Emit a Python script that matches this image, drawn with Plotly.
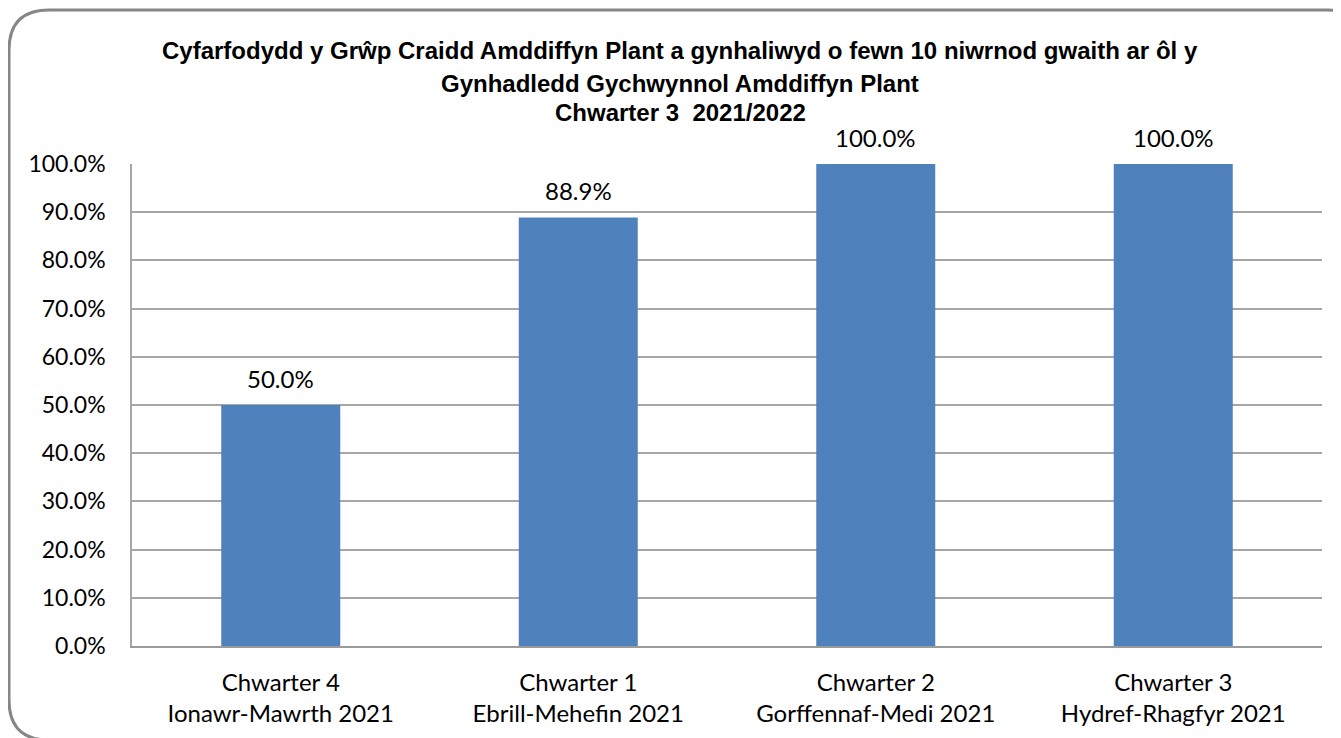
import plotly.graph_objects as go

categories = ["Chwarter 4<br>Ionawr-Mawrth 2021", "Chwarter 1<br>Ebrill-Mehefin 2021",
              "Chwarter 2<br>Gorffennaf-Medi 2021", "Chwarter 3<br>Hydref-Rhagfyr 2021"]
values = [0.50, 0.889, 1.00, 1.00]
tick_vals = [0, 0.1, 0.2, 0.3, 0.4, 0.5, 0.6, 0.7, 0.8, 0.9, 1.0]
tick_text = ["0.0%", "10.0%", "20.0%", "30.0%", "40.0%", "50.0%", "60.0%", "70.0%", "80.0%", "90.0%", "100.0%"]
title_lines = ["Cyfarfodydd y Grŵp Craidd Amddiffyn Plant a gynhaliwyd o fewn 10 niwrnod gwaith ar ôl y",
               "Gynhadledd Gychwynnol Amddiffyn Plant",
               "Chwarter 3  2021/2022"]

OFF = 8  # default body margin of the html page
W, H = 1341 - OFF, 738 - OFF
L, R, T, B = 132 - OFF, 19, 164 - OFF, 92
pw, ph = W - L - R, H - T - B

def px(x):
    return (x - OFF - L) / pw

def py(y):
    return (H - B - (y - OFF)) / ph

FONT = "Lato, Open Sans, sans-serif"

fig = go.Figure()
fig.add_trace(go.Bar(
    x=categories, y=values, width=0.4,
    marker=dict(color="#4F81BD", line=dict(width=0)),
    cliponaxis=False,
))

for c, v in zip(categories, values):
    fig.add_annotation(x=c, y=v, xref="x", yref="y", text=f"{v*100:.1f}%",
                       showarrow=False, xanchor="center", yanchor="middle", yshift=27,
                       font=dict(family=FONT, size=24, color="#000000"))

fig.update_layout(
    width=W, height=H,
    margin=dict(l=L, r=R, t=T, b=B),
    paper_bgcolor="white", plot_bgcolor="white",
    showlegend=False,
    xaxis=dict(showgrid=False, showline=True, linecolor="#9A9A9A", linewidth=1.5,
               tickfont=dict(family=FONT, size=24, color="#000000"),
               ticks="", ticklabelstandoff=14),
    yaxis=dict(range=[0, 1.0], tickvals=tick_vals, ticktext=tick_text,
               showgrid=True, gridcolor="#A6A6A6", gridwidth=1.5,
               showline=True, linecolor="#A6A6A6", linewidth=1.5,
               zeroline=False, ticks="", ticklen=0, ticklabelstandoff=20,
               tickfont=dict(family=FONT, size=23, color="#000000")),
)

centers_y = [51, 84, 113]
for line, cy in zip(title_lines, centers_y):
    fig.add_annotation(text=f"<b>{line}</b>", x=px(680), y=py(cy), xref="paper", yref="paper",
                       showarrow=False, xanchor="center", yanchor="middle",
                       font=dict(family="Liberation Sans, Arial, sans-serif", size=24, color="#000000"))

# rounded border
x0, y0, x1, y1, r = px(9), py(10), px(1368), py(740), 40
rx, ry = r / pw, r / ph
path = (f"M {x0+rx},{y0} L {x1-rx},{y0} Q {x1},{y0} {x1},{y0-ry} "
        f"L {x1},{y1+ry} Q {x1},{y1} {x1-rx},{y1} L {x0+rx},{y1} Q {x0},{y1} {x0},{y1+ry} "
        f"L {x0},{y0-ry} Q {x0},{y0} {x0+rx},{y0} Z")
fig.add_shape(type="path", path=path, xref="paper", yref="paper",
              line=dict(color="#868686", width=3), layer="above")

fig.write_html("out.html")
